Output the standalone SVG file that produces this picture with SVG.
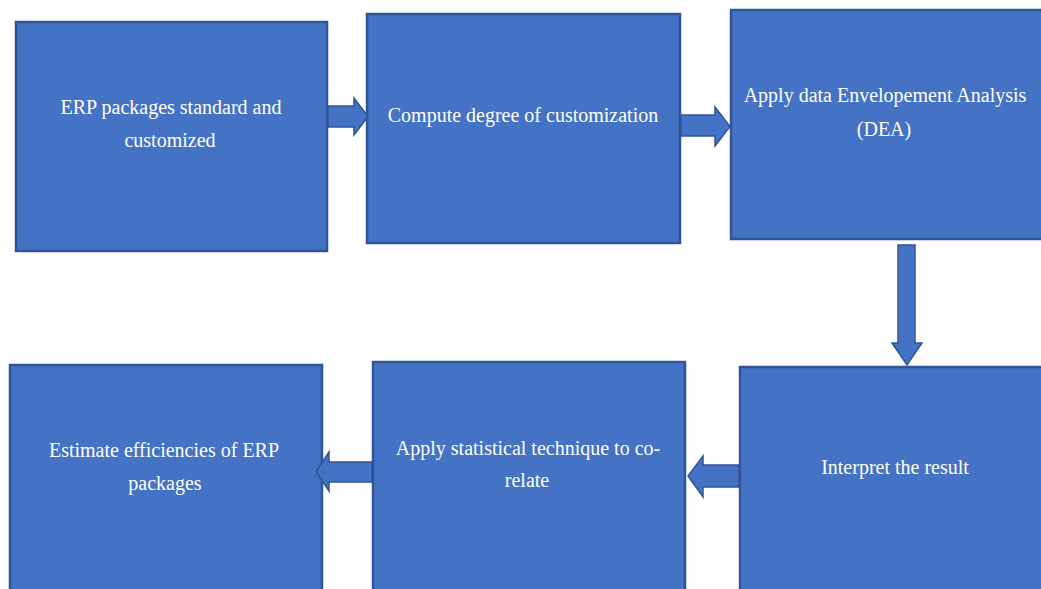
<svg xmlns="http://www.w3.org/2000/svg" width="1041" height="589" viewBox="0 0 1041 589">
<style>
.box{fill:#4472C4;stroke:#2F5597;stroke-width:2.5}
.arr{fill:#4472C4;stroke:#2F5597;stroke-width:1.5;stroke-linejoin:miter}
.t{font-family:"Liberation Serif","Times New Roman",serif;font-size:20px;fill:#FFFFFF;text-anchor:middle}
</style>
<rect width="1041" height="589" fill="#FFFFFF"/>
<g id="node1">
<rect class="box" x="16" y="22" width="311" height="229"/>
<text class="t" x="171" y="114">ERP packages standard and</text>
<text class="t" x="170" y="147">customized</text>
</g>
<g id="node2">
<rect class="box" x="367" y="14" width="313" height="229"/>
<text class="t" x="523" y="122">Compute degree of customization</text>
</g>
<g id="node3">
<rect class="box" x="731" y="10" width="320" height="229"/>
<text class="t" x="885" y="102">Apply data Envelopement Analysis</text>
<text class="t" x="884" y="136">(DEA)</text>
</g>
<g id="node4">
<rect class="box" x="10" y="365" width="312" height="240"/>
<text class="t" x="164" y="457">Estimate efficiencies of ERP</text>
<text class="t" x="165" y="490">packages</text>
</g>
<g id="node5">
<rect class="box" x="373" y="362" width="312" height="240"/>
<text class="t" x="528" y="455">Apply statistical technique to co-</text>
<text class="t" x="527" y="487">relate</text>
</g>
<g id="node6">
<rect class="box" x="740" y="367" width="320" height="240"/>
<text class="t" x="895" y="474">Interpret the result</text>
</g>
<g id="connectors">
<polygon class="arr" points="328,106 354,106 354,98 368,116.5 354,135 354,127 328,127"/>
<polygon class="arr" points="681,115 715,115 715,107 730,126.5 715,146 715,136 681,136"/>
<polygon class="arr" points="898,245 915,245 915,343 922,343 907,365 892,343 898,343"/>
<polygon class="arr" points="739,465 703,465 703,456 688,476 703,497 703,487 739,487"/>
<polygon class="arr" points="372,462 329,462 329,452 316,471.5 329,491 329,482 372,482"/>
</g>
</svg>
